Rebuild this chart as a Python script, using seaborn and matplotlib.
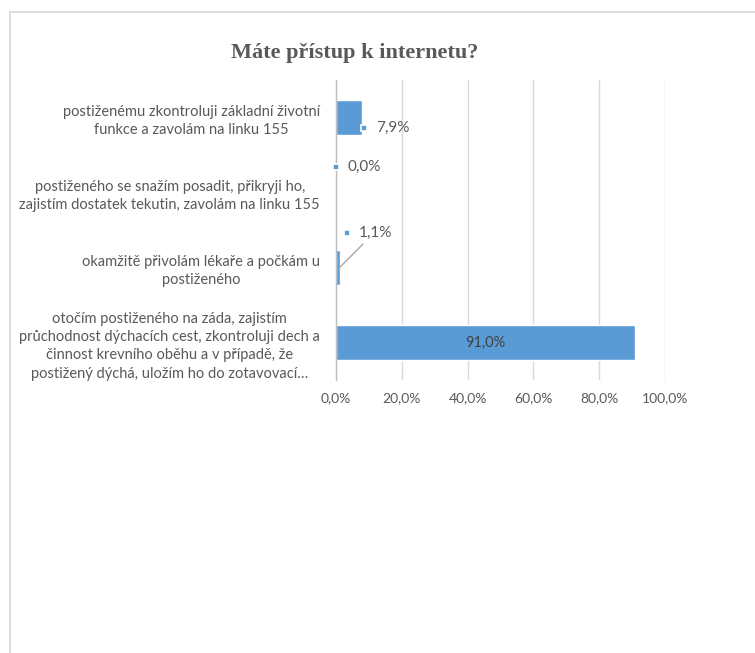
import numpy as np
import pandas as pd
import matplotlib.pyplot as plt
import seaborn as sns
from matplotlib import transforms
from matplotlib.patches import Rectangle

# answers (top to bottom) and their share in percent
categories = [
    'postiženému zkontroluji základní životní\nfunkce a zavolám na linku 155',
    'postiženého se snažím posadit, přikryji ho,\nzajistím dostatek tekutin, zavolám na linku 155',
    'okamžitě přivolám lékaře a počkám u\npostiženého',
    'otočím postiženého na záda, zajistím\nprůchodnost dýchacích cest, zkontroluji dech a\n'
    'činnost krevního oběhu a v případě, že\npostižený dýchá, uložím ho do zotavovací…',
]
values = [7.9, 0.0, 1.1, 91.0]
x_ticks = [0, 20, 40, 60, 80, 100]

# where the excel-like data labels sit (pixels from the bar end), None = inside the bar
label_offsets = [(2, -10.5), (0, 25.5), (7.4, 34.5), None]

BLUE = '#5B9BD5'
GREY_TXT = '#595959'
GRID = '#d9d9d9'


def pct(v):
    return f'{v:.1f}%'.replace('.', ',')


sns.set_theme(style='white')
plt.rcParams['font.family'] = ['Lato', 'DejaVu Sans']

fig = plt.figure(figsize=(7.55, 6.53), dpi=100)
ax = fig.add_axes([336 / 755, 273 / 653, 329 / 755, 300 / 653])

df = pd.DataFrame({'odpoved': categories, 'podil': values})
sns.barplot(data=df, x='podil', y='odpoved', orient='h', color=BLUE,
            saturation=1, width=0.47, ax=ax)

ax.set_xlim(0, 100)
ax.set_ylim(3.5, -0.5)
ax.set_xlabel('')
ax.set_ylabel('')
ax.set_xticks(x_ticks)
ax.set_xticklabels([pct(t) for t in x_ticks])
ax.grid(axis='x', color=GRID, lw=1)
ax.set_axisbelow(True)
for s in ['top', 'right', 'bottom']:
    ax.spines[s].set_visible(False)
ax.spines['left'].set_color('#bfbfbf')
ax.spines['left'].set_linewidth(1)

ax.tick_params(axis='x', length=0, labelsize=10, labelcolor=GREY_TXT, pad=9)
ax.tick_params(axis='y', which='major', length=0, labelsize=10.5, labelcolor=GREY_TXT, pad=11.5)
ax.set_yticks(np.arange(-0.5, len(values), 1), minor=True)
ax.tick_params(axis='y', which='minor', length=5, color='#bfbfbf', width=1, direction='out')
for lbl in ax.get_yticklabels():
    lbl.set_multialignment('center')
    lbl.set_linespacing(1.4)

# data labels
for i, (v, off) in enumerate(zip(values, label_offsets)):
    if off is None:
        ax.text(v / 2, i, pct(v), ha='center', va='center', fontsize=10.5, color='#404040')
        continue
    dx, dy = off
    tr = transforms.offset_copy(ax.transData, fig=fig, x=dx, y=dy, units='dots')
    ax.plot([v], [i], marker='s', markersize=5, color=BLUE, mec='white', mew=1.2,
            transform=tr, clip_on=False, zorder=5)
    ax.annotate(pct(v), xy=(v, i), xytext=(dx + 12, dy), textcoords='offset pixels',
                ha='left', va='center', fontsize=11, color=GREY_TXT, annotation_clip=False)
    if dy > 30:
        # leader line for the label that is pulled far from its bar
        ax.annotate('', xy=(v, i), xytext=(dx + 16, dy - 11), textcoords='offset pixels',
                    arrowprops=dict(arrowstyle='-', color='#a6a6a6', lw=1,
                                    shrinkA=0, shrinkB=0), annotation_clip=False)

fig.text(355 / 755, 1 - 53 / 653, 'Máte přístup k internetu?', ha='center', va='center',
         fontsize=16, fontweight='bold', color=GREY_TXT,
         family=['Liberation Serif', 'DejaVu Serif'])

# chart frame (cut off at right and bottom like the screenshot)
fig.patches.append(Rectangle((10 / 755, -0.1), 1.2, 641 / 653 + 0.1, transform=fig.transFigure,
                             fill=False, edgecolor=GRID, lw=1.3))

fig.savefig('out.png', dpi=100)
